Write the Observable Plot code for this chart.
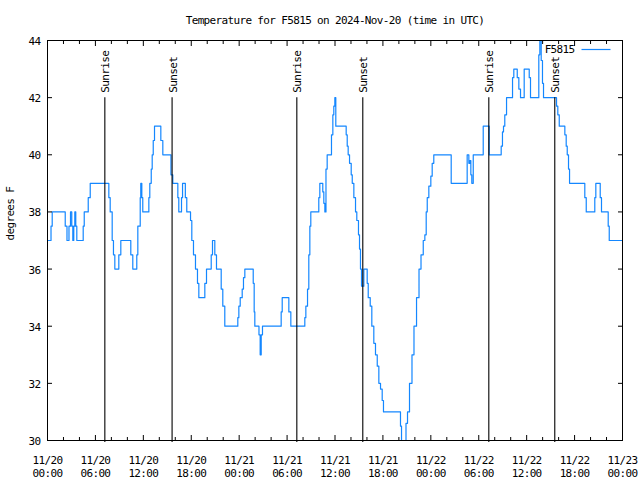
<!DOCTYPE html>
<html><head><meta charset="utf-8">
<script src="https://cdn.jsdelivr.net/npm/d3@7"></script>
<script src="https://cdn.jsdelivr.net/npm/@observablehq/plot@0.6"></script>
<style>body{margin:0;background:#fff;}</style>
</head><body><div id="chart"></div>
<script>
// hours since 2024-11-20 00:00 UTC, and temperature (°F), plotted as steps
const hours = [0.00,0.44,0.59,2.22,2.44,2.69,2.88,3.04,3.17,3.29,3.42,3.54,3.67,4.47,4.60,5.10,5.35,
  7.68,7.85,8.10,8.26,8.43,8.93,9.18,10.43,10.68,11.18,11.31,11.61,11.68,11.81,11.93,12.69,12.81,12.99,
  13.11,13.24,13.40,14.19,14.44,15.46,15.69,16.32,16.44,16.78,16.91,17.26,17.44,17.91,18.07,18.28,18.53,
  18.78,18.95,19.70,19.91,20.50,20.66,20.95,21.16,21.75,21.95,22.20,23.83,23.96,24.13,24.38,24.54,24.71,
  25.76,25.88,25.96,26.48,26.63,26.76,26.92,29.26,29.39,30.22,30.47,32.22,32.35,32.56,32.72,32.85,32.97,
  33.97,34.10,34.47,34.60,34.73,34.87,35.02,35.56,35.73,35.85,35.98,36.10,37.40,37.53,37.65,37.82,38.03,
  38.16,38.36,38.57,38.73,38.94,39.07,39.19,39.32,39.61,40.03,40.16,40.41,40.61,40.86,41.07,41.29,41.49,
  41.70,41.91,42.07,44.20,44.33,44.89,45.08,45.33,45.64,45.89,46.21,46.52,46.77,47.05,47.25,47.42,47.55,
  47.75,48.00,48.17,48.37,50.55,52.55,52.76,52.88,53.01,53.13,53.31,54.56,55.31,56.81,56.97,57.10,57.26,
  57.48,58.23,58.39,58.82,59.02,59.23,59.69,60.32,60.48,61.52,61.65,61.82,61.98,62.11,63.74,63.90,64.08,
  64.78,64.95,65.08,65.24,65.37,67.28,67.46,68.53,68.66,69.21,69.37,70.21,70.34,72.00];
const temps = [37,37.5,38,37.5,37,37.5,38,37.5,37,37.5,38,37.5,37,37.5,38,38.5,39,
  38.5,38,37,36.5,36,36.5,37,36.5,36,36.5,37.5,38.5,39,38.5,38,38.5,39,39.5,
  40,40.5,41,40.5,40,39.3,39,38.5,38,38.5,39,38.5,38,37.7,37,36.5,36,
  35.5,35,35.5,36,36.5,37,36.5,36,35.3,34.7,34,34.3,34.7,35,35.3,35.7,36,
  35.5,34.5,34,33.7,33,33.7,34,34.5,35,34.5,34,34.3,34.7,35.3,36.5,37.5,38,
  38.5,39,38.7,38.3,38,39.5,40,40.7,41.4,41.7,42,41,40.7,40.3,40,39.7,39.3,
  39,38.5,38,37.7,37.2,36.7,36,35.4,36,35.5,35,34.7,34,33.4,33,32.6,32,
  31.8,31.4,31,30.5,30,30.6,31,32,33,34,35,36,36.5,37,37.2,38,38.5,
  38.9,39.25,39.7,40,39,40,39.7,39.8,39.3,39,40,41,40,40.3,40.8,41,41.4,
  42,42.7,43,42.7,42.3,42,43,42.7,42,43.5,44,43.3,42.5,42,41.7,41.4,41,
  40.7,40.3,40,39.5,39,38.5,38,38.5,39,38.5,38,37.5,37,37];

const sunHours = [7.18, 15.60, 31.22, 39.48, 55.26, 63.52];
const sunLabels = ["Sunrise", "Sunset", "Sunrise", "Sunset", "Sunrise", "Sunset"];

const yTicks = [30, 32, 34, 36, 38, 40, 42, 44];
const xMajorHours = [0, 6, 12, 18, 24, 30, 36, 42, 48, 54, 60, 66, 72];
const xMinorHours = [2, 4, 8, 10, 14, 16, 20, 22, 26, 28, 32, 34, 38, 40, 44, 46, 50, 52, 56, 58, 62, 64, 68, 70];

const titleText = "Temperature for F5815 on 2024-Nov-20 (time in UTC)";
const yLabel = "degrees F";
const seriesName = "F5815";

const lineColor = "#1487ff";
const t0 = Date.UTC(2024, 10, 20);
const toDate = h => new Date(t0 + h * 3600e3);

const data = hours.map((h, i) => ({time: toDate(h), temp: temps[i]}));
const sun = sunHours.map((h, i) => ({time: toDate(h), label: sunLabels[i]}));
const majors = xMajorHours.map(toDate);
const minors = xMinorHours.map(toDate);
const fmtD = d3.utcFormat("%m/%d"), fmtT = d3.utcFormat("%H:%M");

const chart = Plot.plot({
  width: 640, height: 480,
  marginLeft: 47, marginRight: 18, marginTop: 40, marginBottom: 40,
  style: {fontFamily: "'DejaVu Sans Mono', monospace", fontSize: "11px", background: "#fff", color: "#000", letterSpacing: "-0.65px"},
  x: {type: "utc", domain: [toDate(0), toDate(72)], label: null},
  y: {domain: [30, 44], label: null},
  marks: [
    Plot.line(data, {x: "time", y: "temp", curve: "step-after", stroke: lineColor, strokeWidth: 1.2}),
    Plot.ruleX(sun, {x: "time", y1: 30, y2: 42, insetTop: 2, stroke: "#000", strokeWidth: 1.1}),
    Plot.text(sun, {x: "time", y: 42, text: "label", rotate: -90, textAnchor: "start", dy: -5, dx: 1, fill: "#000"}),
    Plot.frame({stroke: "#000"}),
    Plot.axisX({anchor: "bottom", ticks: majors, tickSize: -5, fill: "none", label: null}),
    Plot.axisX({anchor: "bottom", ticks: minors, tickSize: -3, fill: "none", label: null}),
    Plot.axisX({anchor: "top", ticks: majors, tickSize: -5, fill: "none", label: null}),
    Plot.axisX({anchor: "top", ticks: minors, tickSize: -3, fill: "none", label: null}),
    Plot.axisX({anchor: "bottom", ticks: majors, tickSize: 0, tickPadding: 14, lineHeight: 1.2,
      tickFormat: d => fmtD(d) + "\n" + fmtT(d), label: null, fill: "#000"}),
    Plot.axisY({anchor: "left", ticks: yTicks, tickSize: -5, fill: "none", label: null}),
    Plot.axisY({anchor: "right", ticks: yTicks, tickSize: -5, fill: "none", label: null}),
    Plot.axisY({anchor: "left", ticks: yTicks, tickSize: 0, tickPadding: 7, dy: 1, label: null, fill: "#000"}),
    Plot.text([yLabel], {frameAnchor: "left", dx: -37, rotate: -90, fill: "#000"}),
    Plot.text([titleText], {frameAnchor: "top", dy: -20, lineAnchor: "middle", fill: "#000"}),
    Plot.text([seriesName], {frameAnchor: "top-right", dx: -48, dy: 9, lineAnchor: "middle", textAnchor: "end", fill: "#000"}),
    Plot.dot([seriesName], {frameAnchor: "top-right", dx: -26.5, dy: 9, fill: "none", stroke: lineColor, strokeWidth: 1.2,
      symbol: {draw(ctx) { ctx.moveTo(-14.5, 0); ctx.lineTo(14.5, 0); }}})
  ]
});
document.getElementById("chart").appendChild(chart);
</script>
</body></html>
